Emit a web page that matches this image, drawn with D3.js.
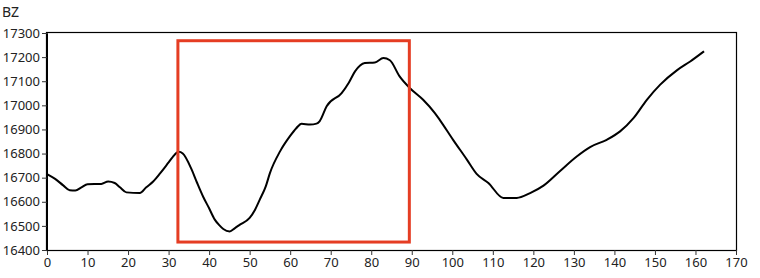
<!DOCTYPE html>
<html><head><meta charset="utf-8">
<script src="https://cdn.jsdelivr.net/npm/d3@7"></script>
<style>
html,body{margin:0;padding:0;background:#fff;}
svg{display:block;font-family:"Noto Sans",sans-serif;}
</style></head>
<body>
<svg id="chart" width="760" height="278"></svg>
<script>
const title = "BZ";
const xValues = [0,2,4,5.6,7,8.5,10,13.4,15.1,16.7,18,19.6,22.9,24.5,26.2,28,29.9,31,32.5,33.5,35.7,37,38.5,40,41.4,42.5,43.5,45.1,46.3,47.6,50,51.3,52.5,54,55,57.5,59.9,61.5,62.8,64.9,66.5,67.3,69,72.7,74.5,76,78.4,80.9,83,84.6,87,89.5,92.8,95.7,96.9,100.2,103.6,106,108.9,112.6,115.9,119.2,122.5,126.6,130.7,134,138.1,141.4,144.7,148,151.3,155.4,158.7,162.1];
const bzValues = [16715,16695,16668,16648,16647,16660,16673,16674,16684,16678,16660,16639,16636,16660,16684,16720,16761,16785,16807,16800,16733,16680,16622,16573,16526,16503,16487,16477,16490,16505,16533,16566,16609,16665,16719,16809,16871,16905,16924,16920,16924,16935,16996,17051,17095,17141,17176,17178,17196,17187,17120,17072,17023,16968,16940,16857,16775,16716,16678,16616,16616,16636,16667,16728,16788,16827,16857,16892,16947,17023,17086,17145,17182,17224];
const xTicks = [0,10,20,30,40,50,60,70,80,90,100,110,120,130,140,150,160,170];
const yTicks = [16400,16500,16600,16700,16800,16900,17000,17100,17200,17300];
const highlightX = [32.3, 89.4];
const highlightY = [16433, 17268];

const svg = d3.select("#chart");
const m = {left:47, right:24, top:33, bottom:28};
const W = 760, H = 278;
const x = d3.scaleLinear().domain([0,170]).range([m.left, W-m.right]);
const y = d3.scaleLinear().domain([16400,17300]).range([H-m.bottom, m.top]);

svg.append("rect")
  .attr("x", m.left-0.5).attr("y", m.top-0.5)
  .attr("width", W-m.right-m.left+1).attr("height", H-m.bottom-m.top+1)
  .attr("fill","none").attr("stroke","#000").attr("stroke-width",1.2);

const xAxis = svg.append("g").attr("transform",`translate(0,${H-m.bottom})`)
  .call(d3.axisBottom(x).tickValues(xTicks).tickSize(5).tickPadding(3).tickFormat(d3.format("d")));
const yAxis = svg.append("g").attr("transform",`translate(${m.left},0)`)
  .call(d3.axisLeft(y).tickValues(yTicks).tickSize(5).tickPadding(2).tickFormat(d3.format("d")));
[xAxis,yAxis].forEach(g=>{
  g.select(".domain").attr("stroke","#000");
  g.selectAll(".tick line").attr("stroke","#333");
  g.selectAll("text").attr("font-size",13).attr("fill","#222").attr("font-family","Noto Sans, sans-serif");
});

const data = xValues.map((v,i)=>[v,bzValues[i]]);
svg.append("path").datum(data)
  .attr("fill","none").attr("stroke","#000").attr("stroke-width",2)
  .attr("stroke-linejoin","round")
  .attr("d", d3.line().x(d=>x(d[0])).y(d=>y(d[1])).curve(d3.curveMonotoneX));

svg.append("rect")
  .attr("x", x(highlightX[0])).attr("y", y(highlightY[1]))
  .attr("width", x(highlightX[1])-x(highlightX[0]))
  .attr("height", y(highlightY[0])-y(highlightY[1]))
  .attr("fill","none").attr("stroke","#e53d23").attr("stroke-width",3);

svg.append("text").attr("x",2).attr("y",17).attr("font-size",14).attr("fill","#222").text(title);
</script>
</body></html>
